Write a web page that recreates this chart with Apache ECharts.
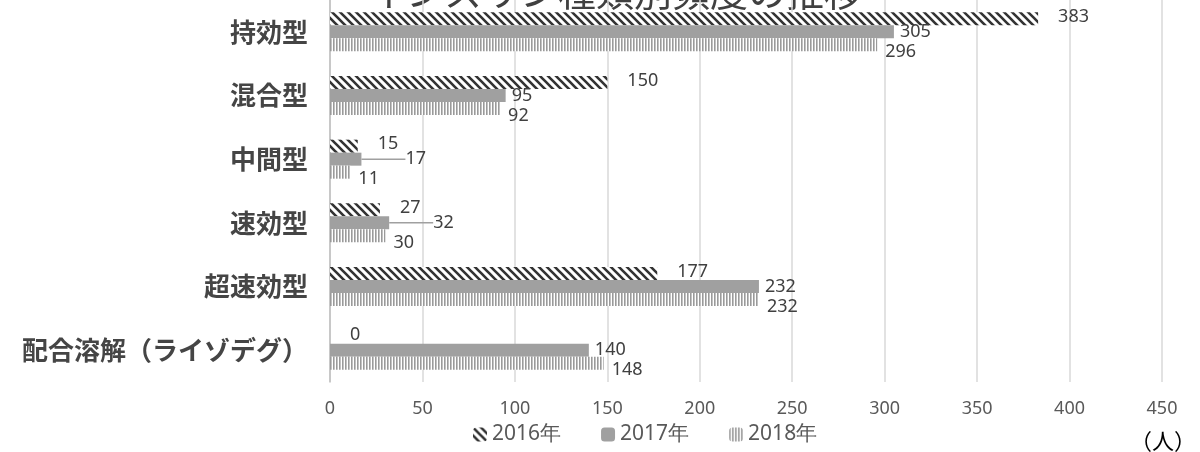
<!DOCTYPE html>
<html><head><meta charset="utf-8">
<script src="https://cdn.jsdelivr.net/npm/echarts@6/dist/echarts.min.js"></script>
<style>html,body{margin:0;padding:0;background:#fff}#c{width:1200px;height:452px}</style>
</head><body><div id="c"></div>
<script>
const titleText = 'インスリン種類別頻度の推移';
const categories = ['持効型','混合型','中間型','速効型','超速効型','配合溶解（ライゾデグ）'];
const seriesNames = ['2016年','2017年','2018年'];
const values2016 = [383,150,15,27,177,0];
const values2017 = [305,95,17,32,232,140];
const values2018 = [296,92,11,30,232,148];
const xTicks = [0,50,100,150,200,250,300,350,400,450];
const unitText = '（人）';

function hatch(){
  const c=document.createElement('canvas');c.width=8;c.height=8;
  const g=c.getContext('2d');g.fillStyle='#fff';g.fillRect(0,0,8,8);
  g.strokeStyle='#333';g.lineWidth=2.6;
  g.beginPath();g.moveTo(-2,-2);g.lineTo(10,10);g.moveTo(6,-2);g.lineTo(10,2);g.moveTo(-2,6);g.lineTo(2,10);g.stroke();
  return {image:c,repeat:'repeat'};
}
function vstripe(){
  const c=document.createElement('canvas');c.width=3;c.height=4;
  const g=c.getContext('2d');g.fillStyle='#fff';g.fillRect(0,0,3,4);
  g.fillStyle='#9a9a9a';g.fillRect(0,0,1.6,4);
  return {image:c,repeat:'repeat'};
}
const labelFont={fontFamily:'Noto Sans',fontSize:18,color:'#404040'};
const chart=echarts.init(document.getElementById('c'),null,{renderer:'canvas'});
chart.setOption({
  animation:false,
  grid:{left:330,right:38,top:0,bottom:70,containLabel:false},
  legend:{bottom:2,left:468,itemWidth:14,itemHeight:14,itemGap:40,
    textStyle:{fontFamily:'Noto Sans',fontSize:21,color:'#595959'},data:seriesNames},
  xAxis:{type:'value',min:0,max:450,interval:50,
    axisLine:{show:false},axisTick:{show:false},
    splitLine:{lineStyle:{color:'#d9d9d9',width:1.5}},
    axisLabel:{margin:18,fontFamily:'Noto Sans',fontSize:18,color:'#595959',
      formatter:v=>xTicks.includes(v)?String(v):''}},
  yAxis:{type:'category',data:categories,inverse:true,
    axisLine:{lineStyle:{color:'#bfbfbf',width:1.5}},axisTick:{show:false},
    axisLabel:{margin:22,fontFamily:'Noto Sans CJK JP',fontSize:26,fontWeight:'bold',color:'#454545'}},
  series:[
    {name:seriesNames[0],type:'bar',data:values2016,barWidth:13,barGap:'0%',
      itemStyle:{color:hatch()},
      label:{show:true,position:'right',distance:20,offset:[0,-2],...labelFont}},
    {name:seriesNames[1],type:'bar',barWidth:13,barGap:'0%',
      data:values2017.map(v=>v<50?{value:v,labelLine:{show:true}}:{value:v,labelLine:{show:false}}),
      itemStyle:{color:'#a0a0a0'},
      label:{show:true,position:'right',distance:6,offset:[0,2],...labelFont},
      labelLine:{show:false,lineStyle:{color:'#a0a0a0',width:1.5}},
      labelLayout:function(p){return values2017[p.dataIndex]<50?{dx:38}:{};}},
    {name:seriesNames[2],type:'bar',data:values2018,barWidth:13,barGap:'0%',
      itemStyle:{color:vstripe()},
      label:{show:true,position:'right',distance:8,offset:[0,7],...labelFont}}
  ],
  graphic:[
    {type:'text',left:368,top:-27,style:{text:titleText,fontFamily:'Noto Sans CJK JP',fontSize:38,fill:'#404040'}},
    {type:'text',right:4,bottom:0,style:{text:unitText,fontFamily:'Noto Sans CJK JP',fontSize:22,fill:'#000'}}
  ]
});
</script></body></html>
